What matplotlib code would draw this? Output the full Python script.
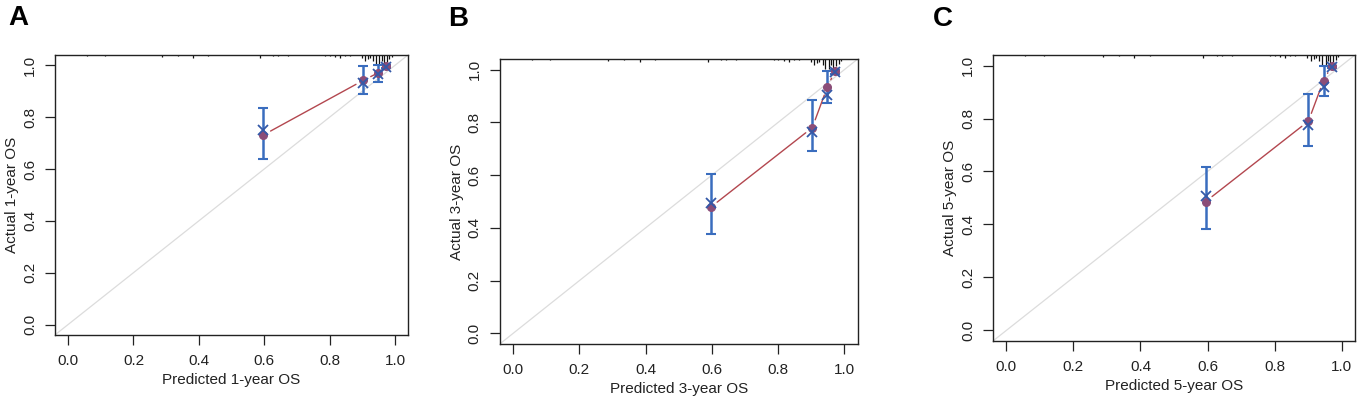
import numpy as np
import matplotlib
matplotlib.use("Agg")
import matplotlib.pyplot as plt

plt.rcParams['font.family'] = ['Liberation Sans', 'DejaVu Sans']

# Calibration points per panel: mean predicted, observed (apparent), bias-corrected, CI
years = ["1", "3", "5"]
letters = ["A", "B", "C"]

pred_A = [0.597, 0.903, 0.947, 0.972]
obs_A = [0.731, 0.942, 0.970, 0.999]
corr_A = [0.750, 0.930, 0.965, 0.995]
lo_A = [0.638, 0.891, 0.936, 0.990]
hi_A = [0.836, 0.997, 1.000, 1.000]

pred_B = [0.596, 0.903, 0.948, 0.972]
obs_B = [0.478, 0.780, 0.933, 0.996]
corr_B = [0.496, 0.763, 0.904, 0.990]
lo_B = [0.377, 0.690, 0.873, 0.985]
hi_B = [0.606, 0.883, 0.996, 1.000]

pred_C = [0.594, 0.901, 0.946, 0.971]
obs_C = [0.486, 0.790, 0.943, 1.000]
corr_C = [0.507, 0.777, 0.918, 0.996]
lo_C = [0.381, 0.695, 0.884, 0.990]
hi_C = [0.616, 0.894, 1.000, 1.000]

# distribution of predicted values (spikes hanging from the top)
rug_x = [0.057, 0.113, 0.287, 0.336, 0.382, 0.428, 0.587, 0.627, 0.642, 0.673,
         0.786, 0.801, 0.817, 0.832, 0.847, 0.862, 0.898, 0.908, 0.918, 0.924,
         0.934, 0.942, 0.952, 0.959, 0.966, 0.974, 0.983, 0.990]
rug_h = [0.004, 0.004, 0.006, 0.004, 0.012, 0.005, 0.012, 0.005, 0.004, 0.004,
         0.005, 0.005, 0.006, 0.012, 0.005, 0.004, 0.012, 0.022, 0.015, 0.012,
         0.022, 0.036, 0.036, 0.022, 0.036, 0.026, 0.016, 0.008]

panels = [
    (pred_A, obs_A, corr_A, lo_A, hi_A),
    (pred_B, obs_B, corr_B, lo_B, hi_B),
    (pred_C, obs_C, corr_C, lo_C, hi_C),
]

# axes boxes [left, bottom, width, height] in figure fraction
boxes = [
    [0.0405, 0.171, 0.260, 0.693],
    [0.368, 0.1485, 0.2636, 0.7054],
    [0.7312, 0.156, 0.2666, 0.708],
]
letter_pos = [(0.006, 0.955), (0.330, 0.953), (0.687, 0.953)]

line_col = '#B3474F'
bar_col = '#3A6DBE'
dot_col = '#8B4D78'
x_col = '#3459A8'

fig = plt.figure(figsize=(13.58, 4.04), dpi=100)
ticks = np.arange(0, 1.01, 0.2)

for i, (pred, obs, corr, lo, hi) in enumerate(panels):
    ax = fig.add_axes(boxes[i])
    ax.set_xlim(-0.04, 1.04)
    ax.set_ylim(-0.04, 1.04)

    # ideal line
    ax.axline((0, 0), slope=1, color='#DCDCDC', lw=0.9, zorder=1)

    # connecting line with gaps at the points (R type="b")
    for j in range(len(pred) - 1):
        ax.annotate('', xy=(pred[j + 1], obs[j + 1]), xytext=(pred[j], obs[j]),
                    arrowprops=dict(arrowstyle='-', color=line_col, lw=1.0,
                                    shrinkA=6, shrinkB=6), zorder=2)

    pred = np.array(pred)
    obs = np.array(obs)
    ax.errorbar(pred, obs, yerr=[obs - np.array(lo), np.array(hi) - obs],
                fmt='none', ecolor=bar_col, elinewidth=1.8, capsize=3.5, capthick=1.5,
                zorder=3)
    ax.plot(pred, obs, 'o', color=dot_col, ms=5.5, zorder=4)
    ax.plot(pred, corr, 'x', color=x_col, ms=6.5, mew=1.3, zorder=5)

    # spikes from top
    ax.vlines(rug_x, [1 - h for h in rug_h], 1, color='#111111', lw=0.9,
              transform=ax.get_xaxis_transform(), zorder=2)

    ax.set_xticks(ticks)
    ax.set_yticks(ticks)
    ax.set_xticklabels(['%.1f' % t for t in ticks])
    ax.set_yticklabels(['%.1f' % t for t in ticks], rotation=90, va='center')
    ax.tick_params(direction='out', length=7, width=0.9, labelsize=11, pad=7,
                   color='#222222', labelcolor='#222222')
    ax.tick_params(axis='y', pad=6)
    for s in ax.spines.values():
        s.set_linewidth(1.0)
        s.set_color('#222222')

    ax.set_xlabel('Predicted %s-year OS' % years[i], fontsize=11, labelpad=3,
                  color='#222222')
    ax.set_ylabel('Actual %s-year OS' % years[i], fontsize=11, labelpad=3,
                  color='#222222')

    fig.text(letter_pos[i][0], letter_pos[i][1], letters[i], fontsize=20,
             fontweight='bold', ha='left', va='center')

fig.savefig('out.png', dpi=100)
